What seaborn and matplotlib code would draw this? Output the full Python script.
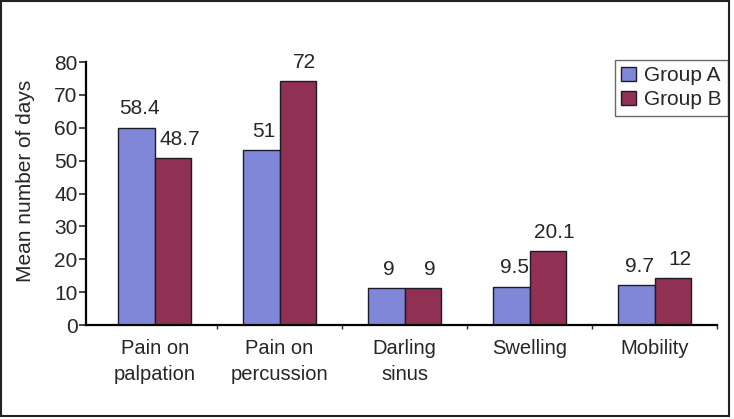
import matplotlib
matplotlib.use("Agg")
import matplotlib.pyplot as plt
import seaborn as sns
import pandas as pd
import numpy as np

categories = ["Pain on\npalpation", "Pain on\npercussion", "Darling\nsinus", "Swelling", "Mobility"]
groups = ["Group A", "Group B"]
# drawn bar heights
height_a = [60.0, 53.1, 11.2, 11.7, 12.1]
height_b = [50.7, 74.1, 11.2, 22.4, 14.2]
# printed value labels
label_a = ["58.4", "51", "9", "9.5", "9.7"]
label_b = ["48.7", "72", "9", "20.1", "12"]

df = pd.DataFrame({
    "category": categories * 2,
    "group": [groups[0]] * 5 + [groups[1]] * 5,
    "value": height_a + height_b,
})

sns.set_style("white")
plt.rcParams["font.family"] = ["Liberation Sans", "DejaVu Sans"]

fig = plt.figure(figsize=(7.34, 4.19), dpi=100)
ax = fig.add_axes([0.117, 0.224, 0.86, 0.628])

sns.barplot(data=df, x="category", y="value", hue="group", order=categories,
            hue_order=groups, palette=["#8087d8", "#903052"], width=0.58,
            edgecolor="#1c1c28", linewidth=1.0, saturation=1, ax=ax)

# value labels (group B labels nudged right like the original)
for cont, labs, dx in zip(ax.containers, [label_a, label_b], [2, 5]):
    for bar, lab in zip(cont, labs):
        ax.annotate(lab, (bar.get_x() + bar.get_width() / 2, bar.get_height()),
                    xytext=(dx, 7), textcoords="offset points",
                    ha="center", va="bottom", fontsize=15)

ax.set_ylim(0, 80)
ax.set_xlim(-0.55, 4.5)
ax.set_yticks(np.arange(0, 81, 10))
ax.set_ylabel("Mean number of days", fontsize=15)
ax.yaxis.set_label_coords(-0.08, 0.55)
ax.set_xlabel("")
ax.tick_params(axis="y", labelsize=15, length=5, width=1.2, direction="out", left=True, pad=1)
ax.tick_params(axis="x", which="major", labelsize=14.5, length=0, pad=10)
for t in ax.get_xticklabels():
    t.set_linespacing(1.45)
ax.set_xticks(np.arange(0.5, 5, 1), minor=True)
ax.tick_params(axis="x", which="minor", length=3, width=1, direction="out", bottom=True)
for s in ["top", "right"]:
    ax.spines[s].set_visible(False)
for s in ["left", "bottom"]:
    ax.spines[s].set_color("black")
    ax.spines[s].set_linewidth(1.6)

leg = ax.legend(loc="upper right", bbox_to_anchor=(728 / 734, 1 - 60 / 419),
                bbox_transform=fig.transFigure, fontsize=15,
                frameon=True, fancybox=False, handlelength=0.7, handleheight=0.6,
                handletextpad=0.4, borderpad=0.3, labelspacing=0.25, borderaxespad=0)
leg.get_frame().set_edgecolor("#444444")
leg.get_frame().set_linewidth(1.0)

# outer frame
fig.patches.append(plt.Rectangle((0.002, 0.006), 0.991, 0.991, transform=fig.transFigure,
                                 fill=False, edgecolor="#222222", linewidth=1.5))

fig.savefig("out.png", dpi=100)
